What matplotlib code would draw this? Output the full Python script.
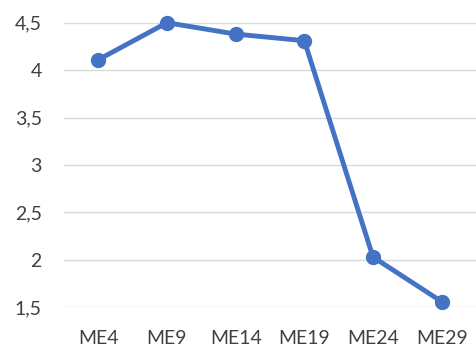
import numpy as np
import matplotlib.pyplot as plt

plt.rcParams['font.family'] = ['Lato', 'DejaVu Sans']

categories = ['ME4', 'ME9', 'ME14', 'ME19', 'ME24', 'ME29']
values = [4.11, 4.50, 4.38, 4.31, 2.03, 1.56]
y_ticks = [1.5, 2, 2.5, 3, 3.5, 4, 4.5]
y_labels = ['1,5', '2', '2,5', '3', '3,5', '4', '4,5']

fig = plt.figure(figsize=(4.76, 3.49), dpi=100, facecolor='white')
ax = fig.add_axes([64/476, 1 - 307.3/349, 1 - 64/476, (307.3 - 22.7)/349])

x = np.arange(len(categories))
ax.plot(x, values, color='#4472C4', linewidth=3.5, marker='o',
        markersize=10, clip_on=False, zorder=3)

ax.set_xlim(-0.5, len(categories) - 0.5)
ax.set_ylim(1.5, 4.5)
ax.set_yticks(y_ticks)
ax.set_yticklabels(y_labels)
ax.set_xticks(x)
ax.set_xticklabels(categories)

ax.grid(axis='y', color='#D9D9D9', linewidth=1)
ax.set_axisbelow(True)
for s in ax.spines.values():
    s.set_visible(False)
ax.tick_params(axis='both', length=0, labelsize=14, labelcolor='#404040')
ax.tick_params(axis='y', pad=16)
ax.tick_params(axis='x', pad=16)

fig.savefig('out.png', dpi=100)
